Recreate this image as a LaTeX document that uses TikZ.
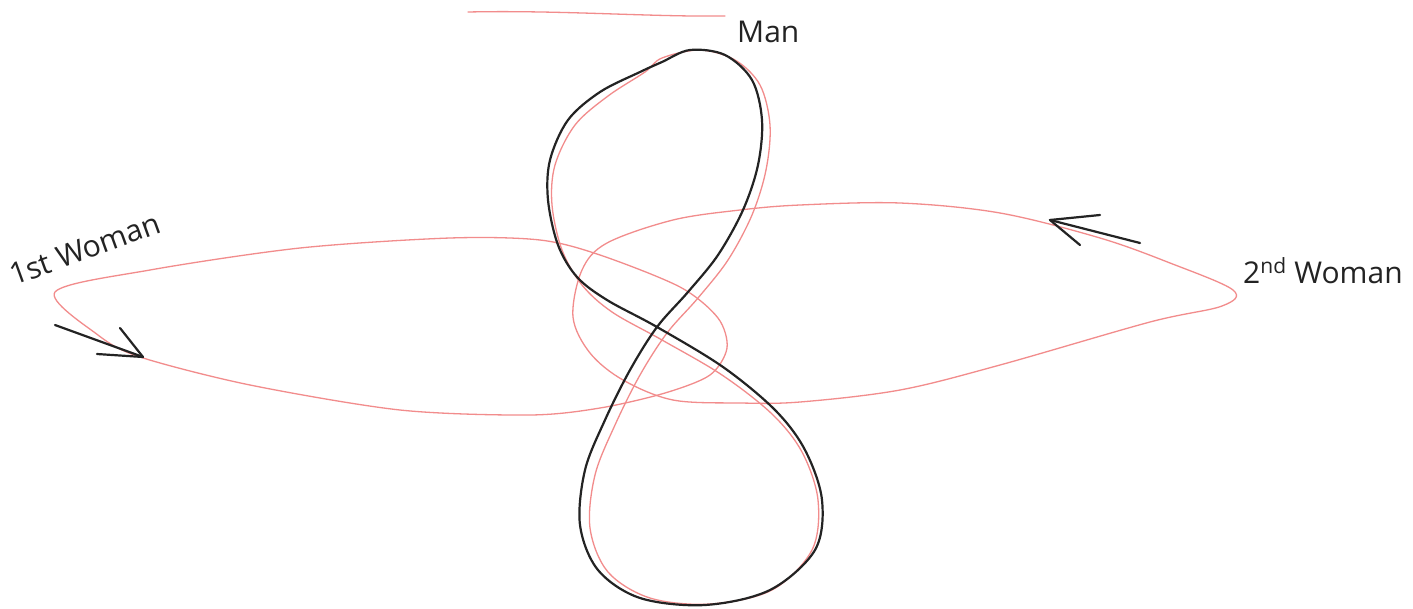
\documentclass[tikz,border=0pt]{standalone}
\usepackage{fontspec}
\setmainfont{Open Sans}
\begin{document}
\begin{tikzpicture}[x=1pt,y=-1pt,
  pencil/.style={draw=penred,line width=1.3pt,line cap=round,line join=round},
  ink/.style={draw=inkblack,line width=2.2pt,line cap=round,line join=round},
  hand/.style={font=\fontsize{30}{32}\selectfont,text=inkblack,inner sep=0pt}]
\definecolor{penred}{RGB}{242,140,140}
\definecolor{inkblack}{RGB}{35,35,35}
\useasboundingbox[fill=white] (0,0) rectangle (1413,608);
% top red line
\draw[pencil] (468,12) .. controls (560,10) and (650,17) .. (725,16);
\node[hand,anchor=base west] (man) at (737,42) {Man};
% left ellipse (1st woman)
\draw[pencil] plot[smooth cycle,tension=0.5] coordinates {(55,292) (150,270) (300,248) (450,238) (540,240) (600,255) (680,287) (718,318) (727,348) (710,375) (665,393) (600,408) (530,415) (400,410) (250,385) (140,357) (98,335)};
% right ellipse (2nd woman)
\draw[pencil] plot[smooth cycle,tension=0.55] coordinates {(573,317) (582,270) (607,243) (673,220) (740,210) (800,205) (900,203) (1000,213) (1100,238) (1170,263) (1233,290) (1222,306) (1150,322) (1000,365) (900,390) (800,402) (740,403) (673,400) (623,380) (590,353)};
% red underdrawing of the figure eight
\draw[pencil] plot[smooth cycle,tension=0.55] coordinates {(662,58) (700,50) (735,60) (760,85) (770,125) (766,170) (752,215) (728,260) (698,298) (667,333) (640,375) (615,425) (595,475) (590,528) (608,572) (650,598) (710,604) (772,590) (812,550) (818,500) (802,452) (772,414) (722,375) (662,340) (612,312) (582,285) (562,250) (552,205) (555,165) (575,125) (608,96) (645,72)};
% black figure eight (man)
\draw[ink] plot[smooth cycle,tension=0.55] coordinates {(662,62) (690,50) (725,55) (752,80) (762,120) (758,165) (743,210) (718,255) (688,292) (657,327) (630,370) (605,420) (585,470) (580,525) (598,570) (640,598) (705,605) (770,590) (815,550) (822,500) (805,450) (775,410) (723,367) (657,327) (607,300) (577,277) (558,245) (548,200) (550,160) (568,120) (600,92) (640,72)};
% labels
\node[hand,rotate=20,anchor=base west] (w1) at (14,286) {1st Woman};
\node[hand,anchor=base west] (w2) at (1243,283) {2\textsuperscript{nd} Woman};
% arrows
\coordinate (a1s) at (55,325);
\coordinate (a1e) at (143,357);
\draw[ink] (a1s) -- (a1e);
\draw[ink] (120,328) -- (a1e) -- (97,354);
\coordinate (a2s) at (1140,243);
\coordinate (a2e) at (1050,220);
\draw[ink] (a2s) -- (a2e);
\draw[ink] (1100,215) -- (a2e) -- (1080,245);
\end{tikzpicture}
\end{document}
